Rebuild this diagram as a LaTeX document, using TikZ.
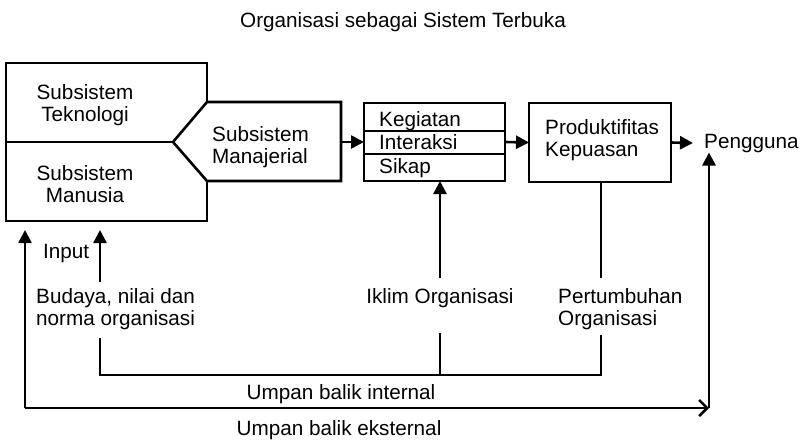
\documentclass[tikz,border=0pt]{standalone}
\usepackage{fontspec}
\setmainfont{Liberation Sans}
\usepackage{tikz}
\usetikzlibrary{arrows.meta}
\tikzstyle{Line}=[draw=black,line width=2.6pt]
\tikzstyle{Arrow}=[Line,-{Triangle[length=13pt,width=13pt]}]
\tikzstyle{Open}=[Line,-{Straight Barb[length=8pt,width=16pt]}]
\tikzstyle{Box}=[draw=black,line width=2.6pt,inner sep=0pt,outer sep=0pt]
\tikzstyle{Text}=[inner sep=0pt,font=\fontsize{20.7}{22}\selectfont]

\begin{document}
\begin{tikzpicture}[x=1pt,y=-1pt]
        \useasboundingbox(0,0)rectangle(801,440);
        \node[Text,anchor=base](title)at(403,27){Organisasi sebagai Sistem Terbuka};
        % subsistem
        \node[Box,minimum width=201,minimum height=158](sub)at(106.5,142){};
        \coordinate(tip)at(173,142);
        \draw[Line](sub.west)--(tip);
        \draw[Line,fill=white](tip)--(207,102)--(341,102)--(341,181)
            --(207,181)--cycle;
        \coordinate(mgrE)at(341,142);
        \node[Text,align=center,anchor=north](tek)at(85,84){Subsistem\\Teknologi};
        \node[Text,align=center,anchor=north](man)at(85,165){Subsistem\\Manusia};
        \node[Text,align=left,anchor=north west](mgr)at(212,126)
            {Subsistem\\Manajerial};
        % kegiatan
        \node[Box,minimum width=141,minimum height=78](act)at(434.5,142){};
        \draw[Line](364,131)--(505,131);
        \draw[Line](364,154)--(505,154);
        \node[Text,anchor=base west](keg)at(379,126){Kegiatan};
        \node[Text,anchor=base west](int)at(379,149){Interaksi};
        \node[Text,anchor=base west](sik)at(379,173){Sikap};
        % produktifitas
        \node[Box,minimum width=142,minimum height=79](prod)at(600,142.5){};
        \node[Text,align=left,anchor=north west](prt)at(545,119)
            {Produktifitas\\Kepuasan};
        \node[Text,anchor=base west](user)at(704,148){Pengguna};
        \draw[Arrow](mgrE)--(act.west);
        \draw[Arrow](act.east)--(prod.west);
        \draw[Arrow](prod.east)--([xshift=-11pt]user.west);
        % umpan balik
        \node[Text,anchor=base west](input)at(43,258){Input};
        \node[Text,align=left,anchor=north west](bud)at(36,288)
            {Budaya, nilai dan\\norma organisasi};
        \node[Text,anchor=base](iklim)at(440,303){Iklim Organisasi};
        \node[Text,align=left,anchor=north west](pert)at(558,288)
            {Pertumbuhan\\Organisasi};
        \node[Text,anchor=base](ibi)at(341,399){Umpan balik internal};
        \node[Text,anchor=base](ibe)at(339,435){Umpan balik eksternal};
        \coordinate(inA)at(100,282);
        \coordinate(inB)at(100,230);
        \coordinate(exA)at(25,408);
        \coordinate(exB)at(25,230);
        \coordinate(exC)at(709,408);
        \coordinate(ibA)at(100,338);
        \coordinate(ibL)at(100,375);
        \coordinate(ibR)at(601,375);
        \coordinate(ibM)at(440,375);
        \coordinate(ikA)at(440,333);
        \coordinate(ikB)at(440,278);
        \coordinate(ptA)at(601,335);
        \coordinate(ptB)at(601,278);
        \draw[Arrow](inA)--(inB);
        \draw[Arrow](exA)--(exB);
        \draw[Open](exA)--(exC);
        \draw[Arrow](exC)--(exC|-user.south);
        \draw[Line](ibA)--(ibL)--(ibR)--(ptA);
        \draw[Line](ibM)--(ikA);
        \draw[Arrow](ikB)--(ikB|-act.south);
        \draw[Line](prod.south-|ptB)--(ptB);
    \end{tikzpicture}
\end{document}
